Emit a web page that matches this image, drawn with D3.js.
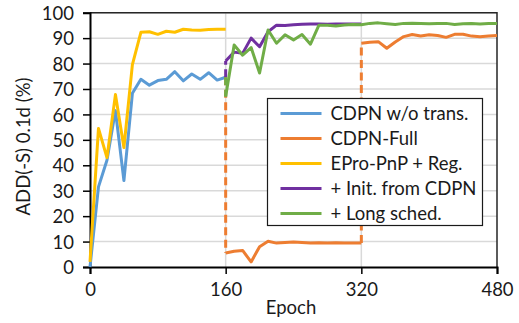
<!DOCTYPE html>
<html>
<head>
<meta charset="utf-8">
<script src="https://cdn.jsdelivr.net/npm/d3@7/dist/d3.min.js"></script>
<style>
  html, body { margin: 0; padding: 0; background: #fff; }
  svg { display: block; font-family: Lato, "Open Sans", sans-serif; }
</style>
</head>
<body>
<svg id="chart" width="519" height="323"></svg>
<script>
// ADD(-S) 0.1d accuracy over training epochs
const xTicks = [0, 160, 320, 480];
const yTicks = [0, 10, 20, 30, 40, 50, 60, 70, 80, 90, 100];

// Stage 1: epochs 0-160
const epochsStage1 = [0, 10, 20, 30, 40, 50, 60, 70, 80, 90, 100, 110, 120, 130, 140, 150, 160];
const cdpnNoTrans = [0, 31.5, 42, 61.5, 34, 68.3, 73.8, 71.5, 73.3, 73.8, 76.8, 73.2, 75.9, 73.8, 76.4, 73.5, 74.6];
const eproReg     = [2, 54.5, 43, 67.8, 47, 79.6, 92.3, 92.5, 91.5, 92.7, 92.3, 93.5, 93.2, 93.1, 93.4, 93.5, 93.5];

// Stage 2: epochs 160-320
const epochsStage2 = [160, 170, 180, 190, 200, 210, 220, 230, 240, 250, 260, 270, 280, 290, 300, 310, 320];
const cdpnFullA  = [5.5, 6.2, 6.5, 2, 8, 10.1, 9.4, 9.6, 9.8, 9.6, 9.4, 9.5, 9.4, 9.5, 9.4, 9.4, 9.4];
const initCdpn   = [81, 84.5, 84, 90, 86.6, 92.5, 95.1, 95, 95.3, 95.5, 95.6, 95.6, 95.5, 95.6, 95.6, 95.6, 95.6];

// Stage 3: epochs 320-480
const epochsStage3 = [320, 330, 340, 350, 360, 370, 380, 390, 400, 410, 420, 430, 440, 450, 460, 470, 480];
const cdpnFullB  = [88, 88.4, 88.6, 86, 88.5, 90.6, 91.4, 90.8, 91.3, 91, 90.3, 91.5, 91.5, 90.8, 90.5, 90.8, 91];

// Long schedule: epochs 160-480
const epochsLong = epochsStage2.concat(epochsStage3.slice(1));
const longSched  = [67, 87.3, 83.3, 86.3, 76.3, 93.2, 88, 91.3, 89.3, 91.4, 87.6, 95.1, 95.1, 94.8, 95.2, 95.4, 95.3,
                    95.8, 96, 95.7, 95.4, 95.8, 95.9, 95.8, 95.7, 95.8, 95.8, 95.4, 95.7, 95.8, 95.6, 95.8, 95.8];

const seriesNames = ["CDPN w/o trans.", "CDPN-Full", "EPro-PnP + Reg.", "+ Init. from CDPN", "+ Long sched."];
const seriesColors = ["#5B9BD5", "#ED7D31", "#FFC000", "#7030A0", "#70AD47"];

const svg = d3.select("#chart");
const x = d3.scaleLinear().domain([0, 480]).range([90, 497]);
const y = d3.scaleLinear().domain([0, 100]).range([267, 12.7]);
const pts = (xs, ys) => xs.map((e, i) => [e, ys[i]]);
const line = d3.line().x(d => x(d[0])).y(d => y(d[1]));
const fontSize = "18.5px";

// horizontal gridlines
svg.append("g").selectAll("line").data(yTicks.slice(1)).join("line")
  .attr("x1", x(0)).attr("x2", x(480))
  .attr("y1", d => y(d)).attr("y2", d => y(d))
  .attr("stroke", "#d9d9d9").attr("stroke-width", 1.5);
// vertical gridlines at stage boundaries
svg.append("g").selectAll("line").data([160, 320]).join("line")
  .attr("x1", d => x(d)).attr("x2", d => x(d))
  .attr("y1", y(0)).attr("y2", y(100))
  .attr("stroke", "#d9d9d9").attr("stroke-width", 1.5);

// frame on top and right
svg.append("path")
  .attr("d", `M${x(0)},${y(100)}H${x(480)}V${y(0)}`)
  .attr("fill", "none").attr("stroke", "#262626").attr("stroke-width", 1.5);

// axes
const yAxis = svg.append("g").attr("transform", `translate(${x(0)},0)`)
  .call(d3.axisLeft(y).tickValues(yTicks).tickSize(7).tickPadding(9));
const xAxis = svg.append("g").attr("transform", `translate(0,${y(0)})`)
  .call(d3.axisBottom(x).tickValues(xTicks).tickSize(7).tickPadding(5));
[yAxis, xAxis].forEach(g => {
  g.select(".domain").attr("stroke", "#000").attr("stroke-width", 2);
  g.selectAll(".tick line").attr("stroke", "#000").attr("stroke-width", 1.5);
  g.selectAll(".tick text").attr("fill", "#1a1a1a").style("font-size", fontSize)
    .style("font-family", "Lato, 'Open Sans', sans-serif");
});
yAxis.selectAll(".tick text").attr("dy", "0.36em");
xAxis.selectAll(".tick text").attr("dy", "0.9em");

// axis titles
svg.append("text")
  .attr("transform", "translate(30,146.5) rotate(-90)")
  .attr("text-anchor", "middle").attr("fill", "#1a1a1a")
  .style("font-size", fontSize).text("ADD(-S) 0.1d (%)");
svg.append("text")
  .attr("x", 291).attr("y", 314)
  .attr("text-anchor", "middle").attr("fill", "#1a1a1a")
  .style("font-size", fontSize).text("Epoch");

const plot = svg.append("g").attr("fill", "none")
  .attr("stroke-width", 3).attr("stroke-linejoin", "round").attr("stroke-linecap", "butt");
const dash = "8,4.5";
const lastBlue = cdpnNoTrans[cdpnNoTrans.length - 1];

// CDPN w/o trans.
plot.append("path").attr("d", line(pts(epochsStage1, cdpnNoTrans))).attr("stroke", seriesColors[0]);
// CDPN-Full: continuation links and two stages
plot.append("path").attr("d", line([[160, lastBlue], [160, cdpnFullA[0]]]))
  .attr("stroke", seriesColors[1]).attr("stroke-dasharray", dash);
plot.append("path").attr("d", line(pts(epochsStage2, cdpnFullA))).attr("stroke", seriesColors[1]);
plot.append("path").attr("d", line([[320, cdpnFullA[cdpnFullA.length - 1]], [320, cdpnFullB[0]]]))
  .attr("stroke", seriesColors[1]).attr("stroke-dasharray", dash);
plot.append("path").attr("d", line(pts(epochsStage3, cdpnFullB))).attr("stroke", seriesColors[1]);
// EPro-PnP + Reg.
plot.append("path").attr("d", line(pts(epochsStage1, eproReg))).attr("stroke", seriesColors[2]);
// + Init. from CDPN
plot.append("path").attr("d", line([[160, lastBlue], [160, initCdpn[0]]]))
  .attr("stroke", seriesColors[3]).attr("stroke-dasharray", dash);
plot.append("path").attr("d", line(pts(epochsStage2, initCdpn))).attr("stroke", seriesColors[3]);
// + Long sched.
plot.append("path").attr("d", line([[160, lastBlue], [160, longSched[0]]]))
  .attr("stroke", seriesColors[4]).attr("stroke-dasharray", dash);
plot.append("path").attr("d", line(pts(epochsLong, longSched))).attr("stroke", seriesColors[4]);

// legend
const legend = svg.append("g").attr("transform", "translate(267.5,98.5)");
legend.append("rect").attr("width", 215).attr("height", 127)
  .attr("fill", "#fff").attr("stroke", "#1a1a1a").attr("stroke-width", 1.2);
const item = legend.selectAll("g").data(seriesNames).join("g")
  .attr("transform", (d, i) => `translate(0,${15 + i * 25})`);
item.append("line").attr("x1", 13).attr("x2", 54)
  .attr("stroke", (d, i) => seriesColors[i]).attr("stroke-width", 3);
item.append("text").attr("x", 63).attr("dy", "0.36em").attr("fill", "#1a1a1a")
  .style("font-size", fontSize).text(d => d);
</script>
</body>
</html>
